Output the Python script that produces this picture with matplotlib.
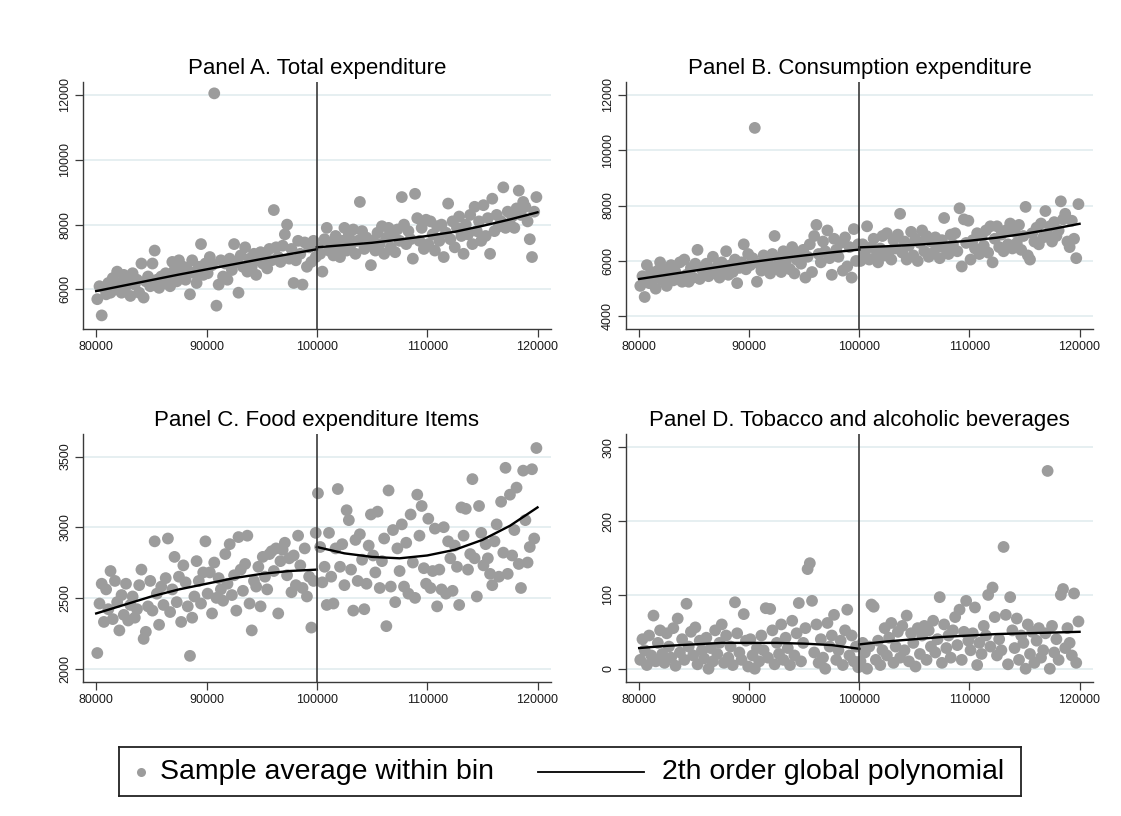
#RD plots: household expenditure around the 100000 cutoff
#binned sample averages + 2nd order global polynomial on each side

import numpy as np
import matplotlib.pyplot as plt
from matplotlib.lines import Line2D

plt.rcParams['font.family'] = ['Liberation Sans', 'DejaVu Sans']

CUTOFF = 100000

#bin midpoints (bins of 200 on each side of the cutoff)
bins_left = np.arange(80100, 100000, 200)
bins_right = np.arange(100100, 120000, 200)

fit_x_left = [80000, 82500, 85000, 87500, 90000, 92500, 95000, 97500, 100000]
fit_x_right = [100000, 102500, 105000, 107500, 110000, 112500, 115000, 117500, 120000]

#Panel A. Total expenditure
totalLeft = [5700, 6100, 5200, 6050, 5850, 6200, 5900, 6350, 6000, 6550,
             6200, 5900, 6450, 6100, 6300, 5800, 6500, 6150, 6300, 5900,
             6800, 5750, 6250, 6400, 6100, 6800, 7200, 6300, 6050, 6400,
             6200, 6500, 6350, 6100, 6850, 6600, 6250, 6900, 6400, 6700,
             6300, 6600, 5850, 6900, 6500, 6200, 6700, 7400, 6450, 6800,
             6500, 7000, 6750, 12050, 5500, 6150, 6900, 6400, 6800, 6300,
             6950, 6600, 7400, 6850, 5900, 7050, 6700, 7300, 6550, 6950,
             6700, 7100, 6450, 6900, 7150, 6800, 7050, 6650, 7250, 6900,
             8450, 7300, 7000, 6850, 7350, 7700, 8000, 6950, 7250, 6200,
             6900, 7500, 7100, 6150, 7450, 6700, 7300, 6850, 7500, 7000]
totalRight = [7300, 7100, 6550, 7550, 7900, 7200, 7450, 7050, 7650, 7300,
              7000, 7500, 7900, 7200, 7700, 7400, 7850, 7100, 7500, 8700,
              7800, 7250, 7600, 7350, 6750, 7500, 7200, 7750, 7400, 7950,
              7100, 7600, 7900, 7300, 7700, 7150, 7850, 7500, 8850, 8000,
              7400, 7800, 7550, 6950, 8950, 8200, 7500, 7900, 7250, 8150,
              7400, 8100, 7700, 7200, 7950, 7500, 8000, 7000, 7750, 8650,
              7550, 8100, 7300, 7900, 8250, 7650, 7100, 8000, 7700, 8300,
              7400, 8550, 7800, 8100, 7500, 8600, 7650, 8200, 7100, 8800,
              7800, 8300, 7950, 8100, 9150, 7900, 8400, 8000, 8250, 7900,
              8500, 9050, 8300, 8700, 8550, 8100, 7550, 7000, 8400, 8850]
totalFitLeft = [5950, 6120, 6290, 6460, 6620, 6780, 6940, 7090, 7240]
totalFitRight = [7300, 7370, 7440, 7540, 7650, 7780, 7960, 8160, 8380]

#Panel B. Consumption expenditure
consLeft = [5100, 5450, 4700, 5850, 5200, 5600, 5350, 5000, 5650, 5950,
            5300, 5700, 5100, 5500, 5850, 5300, 5600, 5400, 5950, 5250,
            6050, 5500, 5250, 5750, 5400, 5900, 6400, 5350, 5700, 5550,
            5900, 5450, 5700, 6150, 5550, 5800, 5400, 5950, 5650, 6350,
            5500, 5850, 5600, 6050, 5200, 5750, 5950, 6600, 5700, 6250,
            5850, 6100, 10800, 5250, 5900, 5650, 6200, 5750, 6000, 5550,
            6250, 6900, 5800, 6100, 5600, 6350, 5950, 6200, 5700, 6500,
            5550, 6050, 6300, 5900, 6400, 5400, 6150, 6600, 5600, 6900,
            7300, 6250, 5950, 6700, 6350, 7100, 6100, 5500, 6800, 6400,
            6150, 6650, 5650, 6850, 5800, 6500, 5400, 7150, 6000, 6600]
consRight = [6000, 6600, 6250, 7250, 6050, 6500, 6800, 6150, 5950, 6450,
             6900, 6200, 7000, 6350, 6050, 6750, 6450, 6950, 7700, 6300,
             6700, 6050, 6550, 7050, 6200, 6800, 6000, 6650, 7100, 6350,
             6900, 6150, 6700, 6300, 6850, 6500, 6100, 6750, 7550, 6400,
             6250, 6950, 6600, 7000, 6350, 7900, 5800, 7500, 6650, 7450,
             6050, 6750, 6450, 7000, 6250, 6900, 6550, 7100, 6300, 7250,
             5950, 6800, 7250, 6500, 6950, 6350, 7100, 6600, 7350, 6450,
             7050, 6650, 7300, 6400, 6900, 7950, 6200, 6050, 7000, 6700,
             7200, 6600, 7350, 6850, 7800, 6950, 7250, 6700, 7400, 6900,
             7100, 8150, 7500, 7700, 6700, 6500, 7450, 6800, 6100, 8050]
consFitLeft = [5350, 5500, 5650, 5800, 5950, 6080, 6200, 6310, 6410]
consFitRight = [6490, 6530, 6580, 6650, 6730, 6840, 6980, 7150, 7340]

#Panel C. Food expenditure
foodLeft = [2110, 2460, 2600, 2330, 2560, 2420, 2690, 2350, 2620, 2470,
            2270, 2520, 2380, 2600, 2340, 2450, 2510, 2360, 2420, 2590,
            2700, 2210, 2260, 2440, 2620, 2410, 2900, 2530, 2310, 2580,
            2450, 2640, 2920, 2400, 2560, 2790, 2470, 2650, 2330, 2730,
            2610, 2440, 2090, 2360, 2510, 2760, 2620, 2460, 2680, 2900,
            2530, 2680, 2390, 2750, 2500, 2640, 2560, 2480, 2810, 2600,
            2880, 2520, 2660, 2410, 2930, 2700, 2550, 2740, 2940, 2460,
            2270, 2620, 2580, 2720, 2440, 2790, 2650, 2560, 2810, 2830,
            2690, 2850, 2390, 2760, 2840, 2890, 2660, 2780, 2540, 2800,
            2590, 2940, 2730, 2570, 2850, 2510, 2650, 2290, 2620, 2960]
foodRight = [3240, 2860, 2610, 2720, 2450, 2960, 2650, 2460, 2850, 3270,
             2720, 2880, 2590, 3120, 3050, 2700, 2410, 2910, 2620, 2950,
             2770, 2420, 2600, 2870, 3090, 2800, 2680, 3110, 2570, 2760,
             2920, 2300, 3260, 2580, 2980, 2470, 2850, 2690, 3020, 2580,
             2890, 2530, 3090, 2750, 2500, 3230, 2940, 3150, 2710, 2600,
             3060, 2570, 2690, 2990, 2440, 2700, 2560, 3000, 2530, 2900,
             2780, 2550, 2870, 2720, 2450, 3140, 2940, 3130, 2700, 2810,
             3340, 2780, 2510, 3150, 2960, 2730, 2880, 2780, 2670, 2590,
             2900, 3020, 2650, 3180, 2820, 3420, 2670, 3230, 2800, 2980,
             3280, 2740, 2570, 3400, 3050, 2750, 2860, 3410, 2920, 3560]
foodFitLeft = [2390, 2450, 2510, 2560, 2600, 2640, 2670, 2690, 2700]
foodFitRight = [2860, 2815, 2790, 2780, 2800, 2840, 2910, 3010, 3140]

#Panel D. Tobacco and alcoholic beverages
tobLeft = [12, 40, 25, 5, 45, 18, 72, 10, 35, 52,
           20, 8, 48, 30, 15, 55, 4, 68, 22, 40,
           12, 88, 30, 50, 18, 56, 6, 38, 25, 14,
           42, 0, 28, 10, 52, 20, 35, 60, 8, 45,
           15, 30, 5, 90, 48, 22, 12, 74, 38, 3,
           40, 18, 0, 28, 10, 45, 25, 82, 15, 81,
           52, 6, 35, 20, 60, 12, 42, 28, 5, 65,
           18, 48, 89, 10, 35, 55, 135, 143, 92, 22,
           60, 8, 40, 15, 0, 62, 30, 45, 73, 12,
           25, 38, 5, 52, 80, 18, 45, 10, 30, 2]
tobRight = [10, 35, 22, 0, 30, 87, 84, 12, 38, 5,
            25, 55, 18, 42, 62, 8, 30, 50, 15, 58,
            25, 72, 10, 48, 35, 3, 55, 20, 45, 58,
            12, 52, 30, 65, 22, 40, 97, 8, 60, 28,
            45, 15, 52, 70, 32, 80, 12, 50, 92, 38,
            25, 48, 83, 5, 35, 20, 58, 45, 100, 30,
            110, 70, 18, 40, 25, 165, 73, 6, 97, 52,
            28, 68, 12, 45, 35, 0, 60, 20, 50, 8,
            38, 55, 15, 25, 48, 268, 0, 58, 22, 40,
            12, 100, 108, 28, 55, 35, 18, 102, 8, 64]
tobFitLeft = [28, 31, 33, 35, 35, 35, 34, 32, 27]
tobFitRight = [33, 37, 40, 43, 45, 47, 48, 49, 50]

panels = [
    ("Panel A. Total expenditure", totalLeft, totalRight, totalFitLeft, totalFitRight,
     [6000, 8000, 10000, 12000], (4780, 12400)),
    ("Panel B. Consumption expenditure", consLeft, consRight, consFitLeft, consFitRight,
     [4000, 6000, 8000, 10000, 12000], (3545, 12455)),
    ("Panel C. Food expenditure Items", foodLeft, foodRight, foodFitLeft, foodFitRight,
     [2000, 2500, 3000, 3500], (1905, 3659)),
    ("Panel D. Tobacco and alcoholic beverages", tobLeft, tobRight, tobFitLeft, tobFitRight,
     [0, 100, 200, 300], (-18, 318)),
]

#axes boxes in figure fraction (left, bottom, width, height)
boxes = [(0.0740, 0.5968, 0.4175, 0.3027),
         (0.5584, 0.5968, 0.4166, 0.3027),
         (0.0740, 0.1642, 0.4175, 0.3039),
         (0.5584, 0.1642, 0.4166, 0.3039)]

DOT = '#9c9c9c'
GRID = '#e6eff1'
AXCOL = '#3a3a3a'

fig = plt.figure(figsize=(11.21, 8.16), dpi=100)
fig.patch.set_facecolor('white')

for (title, yl, yr, fl, fr, yticks, ylim), box in zip(panels, boxes):
    ax = fig.add_axes(box)
    ax.set_xlim(78800, 121220)
    ax.set_ylim(*ylim)
    for t in yticks:
        ax.axhline(t, color=GRID, lw=1.4, zorder=0)
    ax.scatter(bins_left, yl, s=72, color=DOT, edgecolors='none', zorder=2)
    ax.scatter(bins_right, yr, s=72, color=DOT, edgecolors='none', zorder=2)
    ax.plot(fit_x_left, fl, color='black', lw=1.7, zorder=3)
    ax.plot(fit_x_right, fr, color='black', lw=1.7, zorder=3)
    ax.axvline(CUTOFF, color=AXCOL, lw=1.2, zorder=4)

    ax.set_title(title, fontsize=16, pad=6)
    ax.set_xticks([80000, 90000, 100000, 110000, 120000])
    ax.set_xticklabels(['80000', '90000', '100000', '110000', '120000'])
    ax.set_yticks(yticks)
    ax.set_yticklabels([str(t) for t in yticks], rotation=90, va='center')
    ax.tick_params(direction='out', length=5.5, width=0.9, color=AXCOL,
                   labelsize=9, labelcolor='#1a1a1a', pad=3)
    ax.spines['top'].set_visible(False)
    ax.spines['right'].set_visible(False)
    for s in ['left', 'bottom']:
        ax.spines[s].set_color(AXCOL)
        ax.spines[s].set_linewidth(1.0)

#legend box drawn by hand so the two entries sit where they do in the original
leg = fig.add_axes([0.1062, 0.0245, 0.8046, 0.0600])
leg.set_xlim(0, 1)
leg.set_ylim(0, 1)
leg.set_xticks([])
leg.set_yticks([])
for s in leg.spines.values():
    s.set_color('#222222')
    s.set_linewidth(1.3)
leg.add_line(Line2D([0.0238], [0.5], marker='o', markersize=6.5, color=DOT,
                    markeredgewidth=0, linestyle='none'))
leg.text(0.0455, 0.5, 'Sample average within bin', fontsize=20.5, va='center', ha='left')
leg.add_line(Line2D([0.4645, 0.582], [0.5, 0.5], color='black', lw=1.3))
leg.text(0.602, 0.5, '2th order global polynomial', fontsize=20.5, va='center', ha='left')

plt.savefig('out.png', dpi=100, facecolor='white')
